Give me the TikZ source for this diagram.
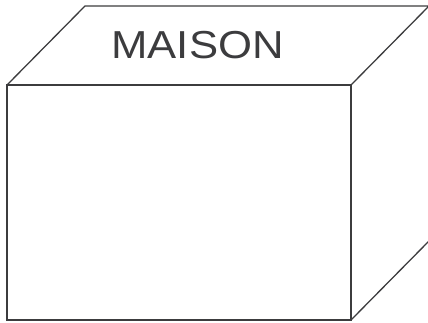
\documentclass[tikz,border=0pt]{standalone}
\usepackage{fontspec}
\setmainfont{Liberation Sans}
\usepackage{tikz}
\usetikzlibrary{positioning}
\definecolor{edgegray}{HTML}{3C3C3E}
\tikzstyle{edge} = [line width=1.3pt, draw=edgegray, line join=miter]
\tikzstyle{title} = [text=edgegray, font=\fontsize{39}{39}\selectfont, xscale=1.12, inner sep=0pt]

\begin{document}
\begin{tikzpicture}[x=1pt,y=1pt]
\useasboundingbox (0,0) rectangle (428,322);
\clip (0,0) rectangle (428,322);
\coordinate (fbl) at (7,2);
\coordinate (fbr) at (351,2);
\coordinate (ftl) at (7,237);
\coordinate (ftr) at (351,237);
\coordinate (btl) at (85,316);
\coordinate (btr) at (429,316);
\coordinate (bbr) at (429,81);

\draw [edge] (fbl) rectangle (ftr);
\draw [edge] (ftl) -- (btl) -- (btr) -- (ftr);
\draw [edge] (fbr) -- (bbr);
\node (label) [title] at (197.5,276.5) {MAISON};
\end{tikzpicture}
\end{document}
